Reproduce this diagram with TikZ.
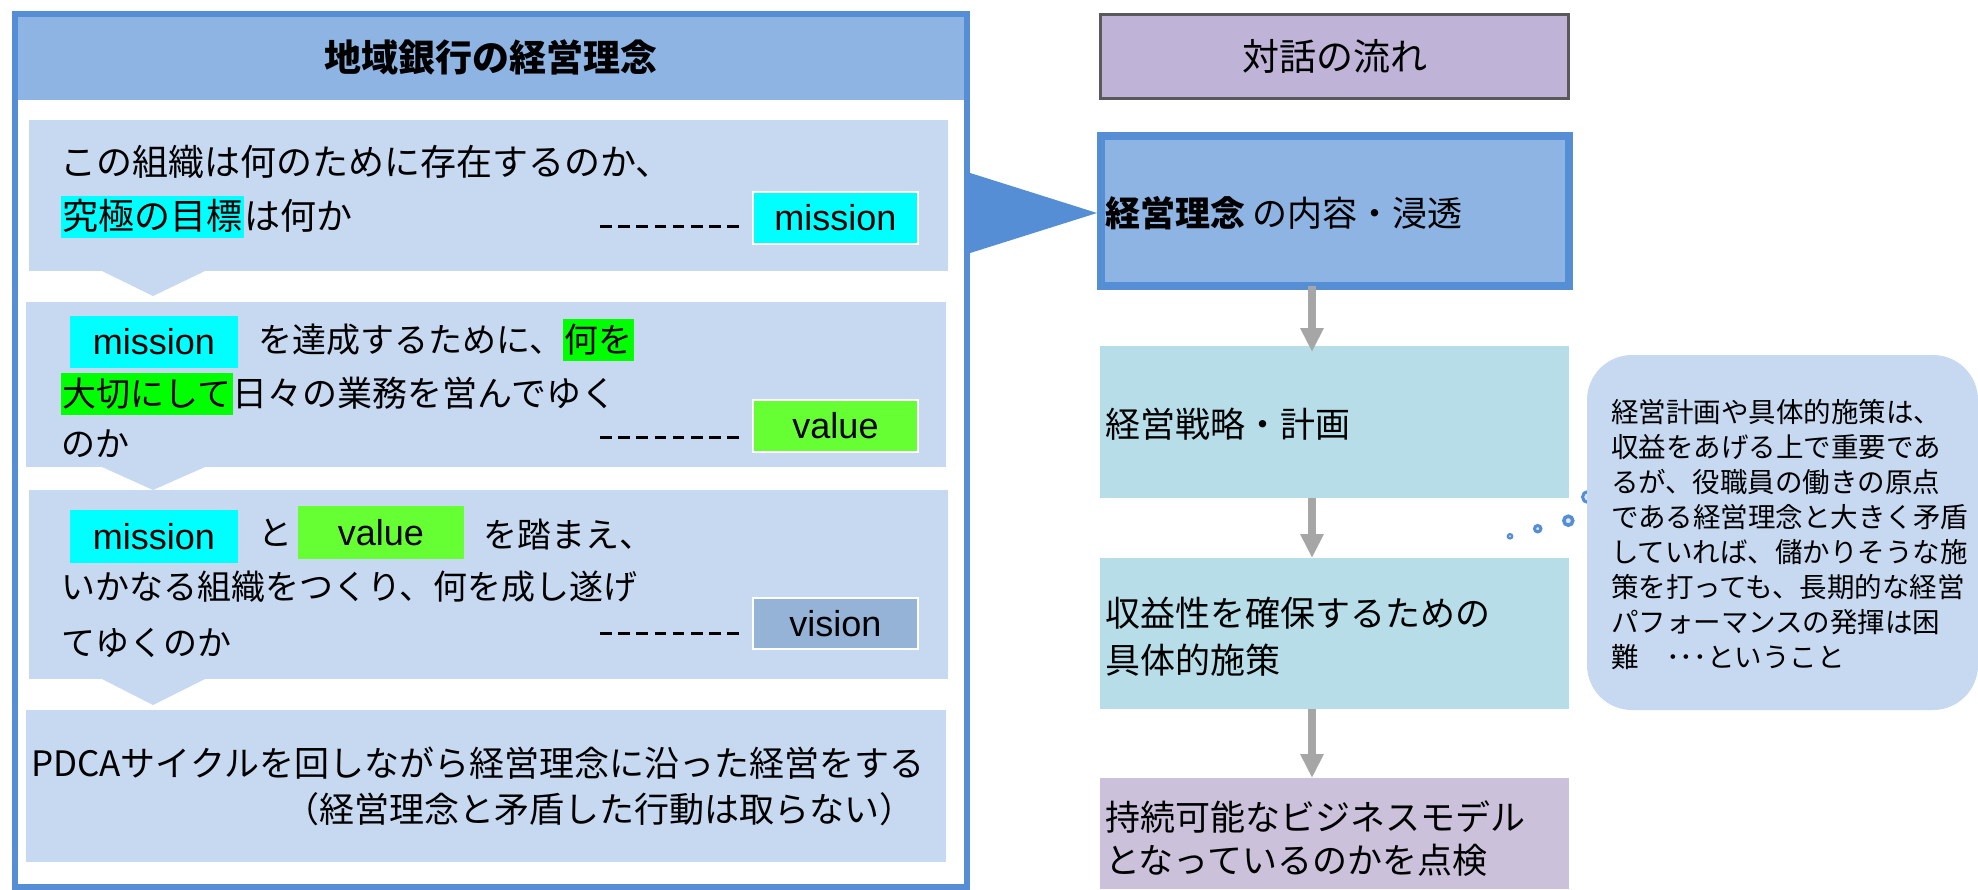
\documentclass[tikz,border=0pt]{standalone}
\usepackage{fontspec}
\setmainfont{Noto Sans CJK JP}
\newfontfamily\latf{Liberation Sans}
\usetikzlibrary{arrows.meta}
\definecolor{bordblue}{HTML}{558ED5}
\definecolor{headblue}{HTML}{8EB4E3}
\definecolor{boxblue}{HTML}{C6D9F0}
\definecolor{cyanhl}{HTML}{00FFFF}
\definecolor{greenhl}{HTML}{00FF00}
\definecolor{valgreen}{HTML}{66FF33}
\definecolor{visblue}{HTML}{95B3D7}
\definecolor{purpA}{HTML}{BFB3D7}
\definecolor{purpB}{HTML}{CCC1DA}
\definecolor{tealbox}{HTML}{B7DEE8}
\definecolor{arrgray}{HTML}{A6A6A6}
\definecolor{frmgray}{HTML}{595959}
\definecolor{dotin}{HTML}{DCE6F5}
\newcommand\fsz[1]{\fontsize{#1pt}{#1pt}\selectfont}
\tikzset{
  base/.style={inner sep=0pt, outer sep=0pt},
  panel/.style={base, fill=boxblue},
  txt/.style={base, anchor=west, font=\fsz{34}, text height=29pt, text depth=4pt},
  hl/.style={txt, fill=#1, inner xsep=1.5pt, inner ysep=4.5pt},
  tag/.style={base, font=\latf\fsz{36}, fill=#1, minimum width=165pt, minimum height=52pt, draw=white, line width=2pt},
  tagin/.style={base, font=\latf\fsz{36}, fill=#1, minimum height=52pt},
  dashl/.style={draw=black, line width=3pt, dash pattern=on 11.5pt off 6.7pt},
  rtxt/.style={base, anchor=west, font=\fsz{35}},
  ctxt/.style={base, anchor=west, font=\fsz{27.5}},
  garrow/.style={draw=arrgray, line width=7.5pt, -{Triangle[width=22pt,length=24pt]}},
  dot/.style={draw=bordblue, fill=dotin},
}
\begin{document}
\begin{tikzpicture}[x=1pt,y=-1pt]
\useasboundingbox (0,0) rectangle (1978,889);

% ---------------- left panel ----------------
\node[base, fill=headblue, minimum width=952pt, minimum height=86pt, font=\bfseries\fsz{37}] (header) at (491,57) {地域銀行の経営理念};

\node[panel, minimum width=919pt, minimum height=151pt] (b1) at (488.5,195.5) {};
\fill[boxblue] (102,271) -- (205,271) -- (153,296) -- cycle;
\node[panel, minimum width=920pt, minimum height=165pt] (b2) at (486,384.5) {};
\fill[boxblue] (102,467) -- (205,467) -- (153,490) -- cycle;
\node[panel, minimum width=919pt, minimum height=189pt] (b3) at (488.5,584.5) {};
\fill[boxblue] (102,679) -- (205,679) -- (153,705) -- cycle;
\node[panel, minimum width=920pt, minimum height=152pt] (b4) at (486,786) {};

\node[base, draw=bordblue, line width=6pt, minimum width=952pt, minimum height=873pt] (outer) at (491,450.3) {};

% box 1
\node[txt, font=\fsz{36}] (l11) at (60,163) {この組織は何のために存在するのか、};
\node[hl=cyanhl, font=\fsz{36}] (l12a) at (61,217) {究極の目標};
\node[txt, font=\fsz{36}] (l12b) at (l12a.east) {は何か};
\coordinate (d1) at (600,226);
\node[tag=cyanhl] (m1) at (835.5,218) {mission};
\draw[dashl] (d1) -- ++(139,0);

% box 2
\node[tagin=cyanhl, minimum width=168pt] (m2) at (154,342) {mission};
\node[txt] (l21a) at (258,340) {を達成するために、};
\node[hl=greenhl] (l21b) at (l21a.east) {何を};
\node[hl=greenhl] (l22a) at (61,394) {大切にして};
\node[txt, font=\fsz{35}] (l22b) at (l22a.east) {日々の業務を営んでゆく};
\node[txt] (l23) at (61,444) {のか};
\coordinate (d2) at (600,437);
\node[tag=valgreen] (v2) at (835.5,426) {value};
\draw[dashl] (d2) -- ++(139,0);

% box 3
\node[tagin=cyanhl, minimum width=168pt, minimum height=53pt] (m3) at (154,536.5) {mission};
\node[txt] (l31a) at (258,533) {と};
\node[tagin=valgreen, minimum width=166pt, minimum height=53pt] (v3) at (381,532.5) {value};
\node[txt] (l31b) at (483,535) {を踏まえ、};
\node[txt] (l32) at (61,587) {いかなる組織をつくり、何を成し遂げ};
\node[txt] (l33) at (61,643) {てゆくのか};
\coordinate (d3) at (600,633);
\node[tag=visblue, minimum height=51pt] (vi3) at (835.5,623.5) {vision};
\draw[dashl] (d3) -- ++(139,0);

% box 4
\node[txt, font=\fsz{35}] (l41) at (31,764) {PDCAサイクルを回しながら経営理念に沿った経営をする};
\node[txt, font=\fsz{35}] (l42) at (284,810) {（経営理念と矛盾した行動は取らない）};

% ---------------- right column ----------------
\node[base, fill=purpA, draw=frmgray, line width=3pt, minimum width=468pt, minimum height=84pt, font=\fsz{37}] (flow) at (1334.5,56.5) {対話の流れ};

\node[base, fill=headblue, draw=bordblue, line width=8pt, minimum width=468pt, minimum height=150pt] (kei) at (1335,211) {};
\node[rtxt] (keit) at (1105,213) {\textbf{経営理念} の内容・浸透};
\fill[bordblue] (967,172) -- ([xshift=-4pt,yshift=-2pt]kei.west) -- (967,254) -- cycle;

\node[base, fill=tealbox, minimum width=469pt, minimum height=152pt] (sen) at (1334.5,422) {};
\node[rtxt] (sent) at (1105,424) {経営戦略・計画};

\node[base, fill=tealbox, minimum width=469pt, minimum height=151pt] (shu) at (1334.5,633.5) {};
\node[rtxt] (shut1) at (1105,613) {収益性を確保するための};
\node[rtxt] (shut2) at (1105,660) {具体的施策};

\node[base, fill=purpB, minimum width=469pt, minimum height=111pt] (jiz) at (1334.5,833.5) {};
\node[rtxt] (jizt1) at (1105,817) {持続可能なビジネスモデル};
\node[rtxt] (jizt2) at (1105,860) {となっているのかを点検};

\coordinate (ax) at (1312,0);
\draw[garrow, shorten >=-6pt] (kei.south -| ax) -- (sen.north -| ax);
\draw[garrow] (sen.south -| ax) -- (shu.north -| ax);
\draw[garrow] (shu.south -| ax) -- (jiz.north -| ax);

% ---------------- callout ----------------
\filldraw[dot, line width=3pt] (1588,497) circle (5.5pt);
\filldraw[dot, line width=3.5pt] (1568.3,520.7) circle (4.5pt);
\filldraw[dot, line width=3pt] (1537.7,528.7) circle (3.2pt);
\filldraw[dot, line width=2.2pt] (1510,536.3) circle (2.2pt);
\node[base, fill=boxblue, rounded corners=45pt, minimum width=391pt, minimum height=355pt] (call) at (1782.5,532.5) {};
\foreach \t [count=\i] in {経営計画や具体的施策は、,収益をあげる上で重要であ,るが、役職員の働きの原点,である経営理念と大きく矛盾,していれば、儲かりそうな施,策を打っても、長期的な経営,パフォーマンスの発揮は困,難　･･･ということ}
  \node[ctxt] (c\i) at (1611,{412+35*(\i-1)}) {\t};
\end{tikzpicture}
\end{document}
